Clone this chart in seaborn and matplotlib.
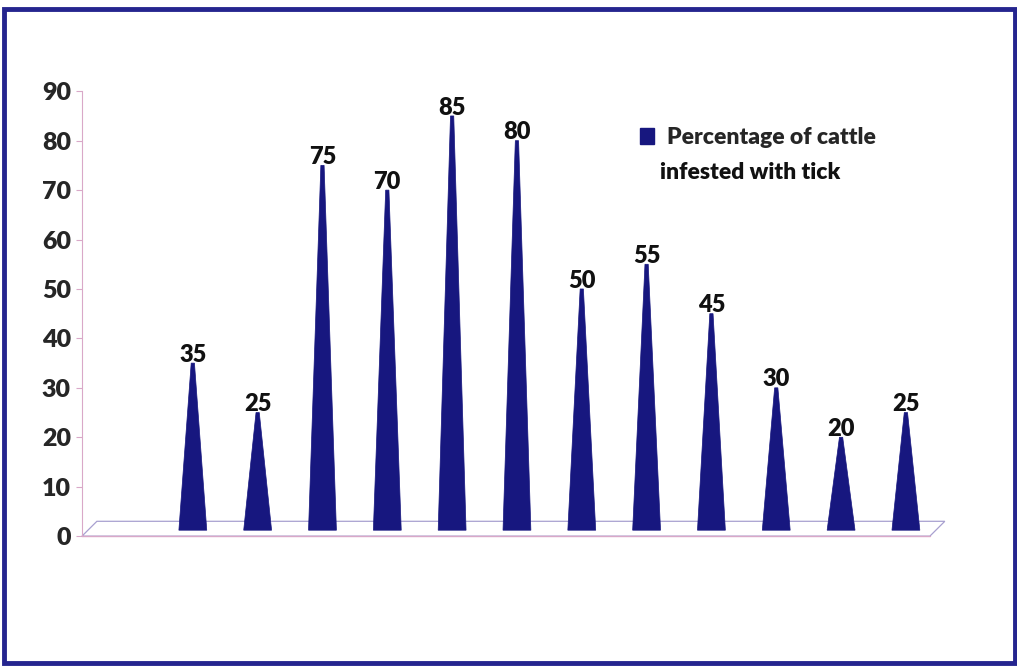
import matplotlib
matplotlib.use("Agg")
import matplotlib.pyplot as plt
import seaborn as sns
import pandas as pd
from matplotlib.patches import Polygon, Rectangle

categories = [f"C{i+1}" for i in range(12)]
values = [35, 25, 75, 70, 85, 80, 50, 55, 45, 30, 20, 25]
yticks = [0, 10, 20, 30, 40, 50, 60, 70, 80, 90]
series_line1 = "Percentage of cattle"
series_line2 = "infested with tick"

sns.set_style("white")
plt.rcParams['font.family'] = ['Lato', 'DejaVu Sans']

navy = "#17177f"
pink = "#d9a8c8"

fig = plt.figure(figsize=(10.17, 6.66), dpi=100)
ax = fig.add_axes([0.0806, 0.195, 0.929 - 0.0806, 0.863 - 0.195])

df = pd.DataFrame({"cat": categories, "val": values})
sns.barplot(data=df, x="cat", y="val", ax=ax, color=navy, width=0.43)

# replace bars by cones
bars = list(ax.patches)
for p in bars:
    x0 = p.get_x()
    w = p.get_width()
    h = p.get_height()
    cx = x0 + w / 2
    tri = Polygon([(x0, 1.2), (x0 + w, 1.2), (cx + 0.025, h), (cx - 0.025, h)],
                  closed=True, facecolor=navy, edgecolor=navy, lw=0.5, zorder=3)
    ax.add_patch(tri)
    ax.text(cx, h + 1.7, f"{int(h)}", ha="center", va="center",
            fontsize=17, fontweight="heavy", color="#111111", zorder=4)
    p.remove()

ax.set_ylim(0, 90)
ax.set_xlim(-1.71, 11.6)
ax.set_yticks(yticks)
ax.set_yticklabels([str(t) for t in yticks], fontsize=18, fontweight="heavy")
ax.set_xticks([])
ax.set_xlabel("")
ax.set_ylabel("")
for s in ["top", "right", "bottom"]:
    ax.spines[s].set_visible(False)
ax.spines["left"].set_color(pink)
ax.spines["left"].set_linewidth(0.8)
ax.tick_params(axis="y", length=4, color=pink, width=0.8, pad=4, left=True)

# floor
floor = Polygon([(-1.71, 0), (11.37, 0), (11.6, 3), (-1.48, 3)], closed=True,
                facecolor="none", edgecolor="#a8a0d0", lw=0.9, clip_on=False, zorder=1)
ax.add_patch(floor)
ax.plot([-1.71, 11.37], [0, 0], color=pink, lw=1.0, clip_on=False, zorder=2)

handle = Rectangle((0, 0), 1, 1, facecolor=navy, edgecolor=navy)
leg = ax.legend([handle], [series_line1], loc="upper left",
                bbox_to_anchor=(0.636, 0.94), frameon=False,
                prop={"size": 16.5, "weight": "heavy"}, handlelength=0.6,
                handleheight=0.65, handletextpad=0.6, borderaxespad=0)
ax.text(0.6705, 0.818, series_line2, transform=ax.transAxes, fontsize=16.5,
        fontweight="heavy", ha="left", va="center", color="#111111")

# figure border
fig.patches.append(Rectangle((0.004, 0.004), 0.994, 0.983, transform=fig.transFigure,
                             fill=False, edgecolor="#25258f", lw=3.5, zorder=10))

fig.savefig("out.png", dpi=100, facecolor="white")
